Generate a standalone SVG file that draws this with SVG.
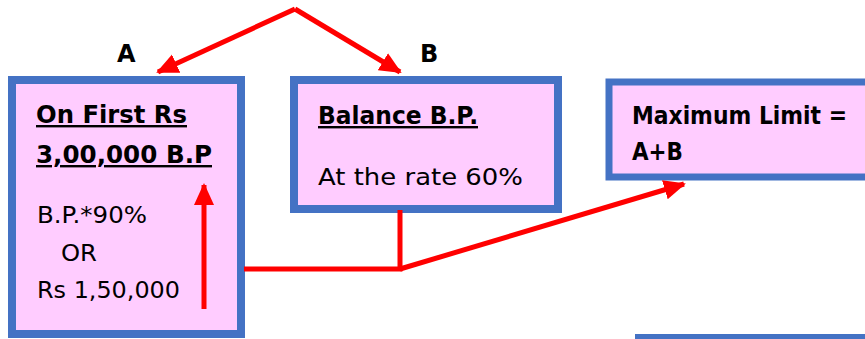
<svg xmlns="http://www.w3.org/2000/svg" width="865" height="339" viewBox="0 0 865 339">
<defs>
<style>
.box{fill:#FFCCFF;stroke:#4472C4;stroke-width:8}
.t{font-family:"Comic Sans MS","DejaVu Sans",sans-serif;font-size:23px;fill:#000}
.b{font-weight:bold;font-size:24px}
.u{text-decoration:underline}
.c{fill:none;stroke:#FF0000;stroke-width:5}
</style>
<marker id="ah" markerUnits="userSpaceOnUse" markerWidth="22" markerHeight="22" viewBox="0 0 22 22" refX="20" refY="11" orient="auto">
<path d="M0,1 L22,11 L0,21 Z" fill="#FF0000"/>
</marker>
</defs>
<g id="nodeA">
<rect class="box" x="12" y="80" width="229" height="254"/>
<text class="t b u" x="36" y="123" textLength="151" lengthAdjust="spacingAndGlyphs">On First Rs</text>
<text class="t b u" x="36" y="163" textLength="176" lengthAdjust="spacingAndGlyphs">3,00,000 B.P</text>
<text class="t" x="37" y="223" textLength="110" lengthAdjust="spacingAndGlyphs">B.P.*90%</text>
<text class="t" x="61" y="261" textLength="36" lengthAdjust="spacingAndGlyphs">OR</text>
<text class="t" x="37" y="298" textLength="143" lengthAdjust="spacingAndGlyphs">Rs 1,50,000</text>
</g>
<g id="nodeB">
<rect class="box" x="294" y="80" width="264" height="129"/>
<text class="t b u" x="318" y="124" textLength="160" lengthAdjust="spacingAndGlyphs">Balance B.P.</text>
<text class="t" x="318" y="185" textLength="205" lengthAdjust="spacingAndGlyphs">At the rate 60%</text>
</g>
<g id="nodeC">
<rect class="box" x="609" y="82" width="270" height="95" style="stroke-width:7"/>
<text class="t b" x="632" y="124" textLength="215" lengthAdjust="spacingAndGlyphs">Maximum Limit =</text>
<text class="t b" x="632" y="160" textLength="51" lengthAdjust="spacingAndGlyphs">A+B</text>
</g>
<g id="nodeD">
<rect class="box" x="639" y="338" width="240" height="60"/>
</g>
<g id="labels">
<text class="t b" x="117" y="62">A</text>
<text class="t b" x="420" y="62">B</text>
</g>
<g id="connectors">
<path class="c" d="M295,9 L158,72" marker-end="url(#ah)"/>
<path class="c" d="M295,9 L400,72" marker-end="url(#ah)"/>
<path class="c" d="M204,309 L204,185" marker-end="url(#ah)"/>
<path class="c" d="M244,269 L400,269 L400,210"/>
<path class="c" d="M400,269 L684,184" marker-end="url(#ah)"/>
</g>
</svg>
